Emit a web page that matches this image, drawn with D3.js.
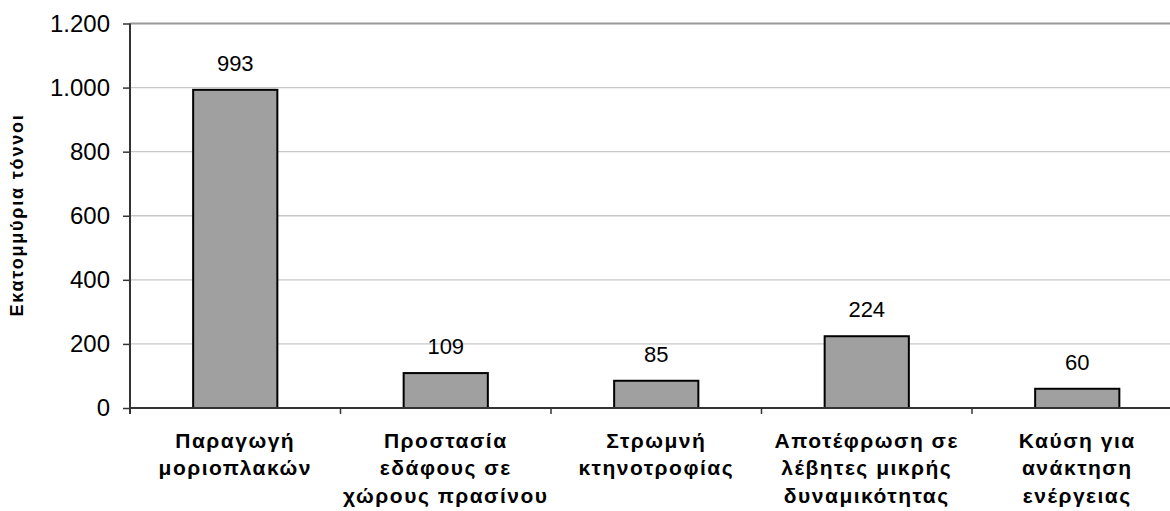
<!DOCTYPE html>
<html><head><meta charset="utf-8">
<script src="https://cdn.jsdelivr.net/npm/d3@7"></script>
<style>body{margin:0;background:#fff}svg{display:block}text{font-family:"Liberation Sans",Arial,sans-serif}</style>
</head><body><svg id="c" width="1170" height="511"></svg>
<script>
const categories = [
  ["Παραγωγή","μοριοπλακών"],
  ["Προστασία","εδάφους σε","χώρους πρασίνου"],
  ["Στρωμνή","κτηνοτροφίας"],
  ["Αποτέφρωση σε","λέβητες μικρής","δυναμικότητας"],
  ["Καύση για","ανάκτηση","ενέργειας"]
];
const values = [993, 109, 85, 224, 60];
const yTicks = [0, 200, 400, 600, 800, 1000, 1200];
const yTickLabels = ["0","200","400","600","800","1.000","1.200"];
const yTitle = "Εκατομμύρια τόννοι";

(function(){
const svg = d3.select("#c");
const pLeft = 130, pRight = 1182.5, pTop = 23.5, pBottom = 408;
const keys = categories.map((c,i)=>i);
const x = d3.scaleBand().domain(keys).range([pLeft,pRight]).paddingInner(0.6).paddingOuter(0.3);
const y = d3.scaleLinear().domain([0,1200]).range([pBottom,pTop]);

svg.append("g").selectAll("line").data(yTicks.filter(t=>t>0&&t<1200)).join("line")
  .attr("x1",pLeft).attr("x2",1170).attr("y1",d=>y(d)).attr("y2",d=>y(d))
  .attr("stroke","#c8c8c8").attr("stroke-width",1.3);
svg.append("line").attr("x1",pLeft).attr("x2",1170).attr("y1",y(1200)).attr("y2",y(1200))
  .attr("stroke","#999").attr("stroke-width",2);

const yAxis = d3.axisLeft(y).tickValues(yTicks).tickFormat((d,i)=>yTickLabels[i]).tickSize(7).tickPadding(13);
const ga = svg.append("g").attr("transform",`translate(${pLeft},0)`).call(yAxis);
ga.select(".domain").remove();
ga.selectAll(".tick line").attr("stroke","#333").attr("stroke-width",1.5);
ga.selectAll(".tick text").attr("font-size",24).attr("fill","#000").attr("font-family","Liberation Sans, Arial, sans-serif");
svg.append("line").attr("x1",pLeft).attr("x2",pLeft).attr("y1",pTop).attr("y2",pBottom+6)
  .attr("stroke","#333").attr("stroke-width",2);

svg.append("g").selectAll("rect").data(values).join("rect")
  .attr("x",(d,i)=>x(i)).attr("width",x.bandwidth())
  .attr("y",d=>y(d)).attr("height",d=>y(0)-y(d))
  .attr("fill","#a0a0a0").attr("stroke","#000").attr("stroke-width",2);

svg.append("line").attr("x1",pLeft).attr("x2",1170).attr("y1",pBottom).attr("y2",pBottom)
  .attr("stroke","#333").attr("stroke-width",2.2);
const step = x.step();
svg.append("g").selectAll("line").data(keys.slice(1)).join("line")
  .attr("x1",d=>x(d)-step*0.3).attr("x2",d=>x(d)-step*0.3)
  .attr("y1",pBottom).attr("y2",pBottom+6).attr("stroke","#333").attr("stroke-width",1.5);

svg.append("g").selectAll("text").data(values).join("text")
  .attr("x",(d,i)=>x(i)+x.bandwidth()/2).attr("y",d=>y(d)-19)
  .attr("text-anchor","middle").attr("font-size",22).attr("fill","#000")
  .text(d=>d3.format(",")(d).replace(/,/g,"."));

const cg = svg.append("g").selectAll("text").data(categories).join("text")
  .attr("text-anchor","middle").attr("font-size",21).attr("font-weight","bold")
  .attr("letter-spacing",1.5).attr("fill","#000");
cg.selectAll("tspan").data((d,i)=>d.map(l=>({l,i}))).join("tspan")
  .attr("x",d=>x(d.i)+x.bandwidth()/2).attr("y",(d,j)=>447.5+j*27.5).text(d=>d.l);

svg.append("text").attr("transform","translate(22.5,215) rotate(-90)")
  .attr("text-anchor","middle").attr("font-size",18).attr("font-weight","bold")
  .attr("letter-spacing",1.8).text(yTitle);
})();
</script></body></html>
